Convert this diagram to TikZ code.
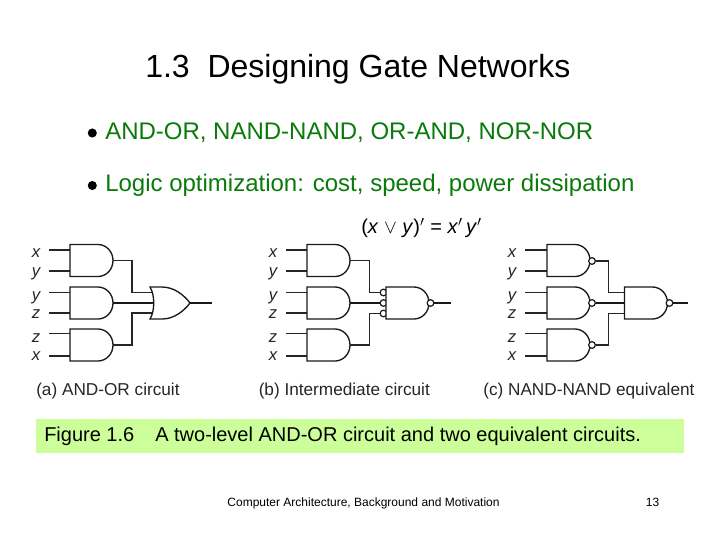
\documentclass[tikz,border=0pt]{standalone}
\usepackage{fontspec}
\setmainfont{Liberation Sans}
\definecolor{bulletgreen}{RGB}{10,122,10}
\definecolor{bannerg}{RGB}{204,255,153}
\tikzset{x=0.75pt,y=-0.75pt,
 wire/.style={line width=0.9pt,black!85},
 thick wire/.style={line width=1.5pt,black!90},
 gate/.style={line width=1pt,black!90,fill=white},
 bub/.style={circle,draw=black!90,line width=0.9pt,fill=white,inner sep=0pt,minimum size=5pt},
 dot/.style={circle,fill=black,inner sep=0pt,minimum size=6.8pt},
 var/.style={font=\itshape\fontsize{12.5pt}{14pt}\selectfont,inner sep=0pt,black!85,anchor=base},
 capt/.style={font=\fontsize{12.9pt}{15pt}\selectfont,anchor=base west,inner sep=0pt,black!85},
 head/.style={font=\fontsize{24pt}{28pt}\selectfont,anchor=base west,inner sep=0pt},
 bul/.style={font=\fontsize{18pt}{22pt}\selectfont,anchor=base west,inner sep=0pt},
 foot/.style={font=\fontsize{9pt}{11pt}\selectfont,inner sep=0pt,anchor=base},
 band/.style={font=\fontsize{15pt}{18pt}\selectfont,anchor=base west,inner sep=0pt}}
\newcommand{\andg}[3]{\draw[gate] (#1,#2-16) -- (#1+28,#2-16) arc[start angle=90,end angle=-90,x radius=15*0.75pt,y radius=16*0.75pt] -- (#1,#2+16) -- cycle;
 \coordinate (#3) at (#1+43,#2);}
\newcommand{\org}[3]{\draw[gate] (#1,#2-16) -- (#1+12,#2-16) .. controls (#1+24,#2-16) and (#1+34,#2-8) .. (#1+40,#2) .. controls (#1+34,#2+8) and (#1+24,#2+16) .. (#1+12,#2+16) -- (#1,#2+16) .. controls (#1+5,#2+8) and (#1+5,#2-8) .. (#1,#2-16) -- cycle;
 \coordinate (#3) at (#1+40,#2);}
\newcommand{\inp}[3]{
 \foreach \lab/\ly/\wy in {x/257.5/250,y/276/271,y/300/292.5,z/318/313,z/342/333.5,x/360.5/356}{
  \node[var] at (#1,\ly) {\lab};
  \coordinate (w) at (#2,\wy);
  \coordinate (e) at (#3,\wy);
  \draw[wire] (w) -- (e);
 }}
\begin{document}
\begin{tikzpicture}
\useasboundingbox (0,0) rectangle (720,540);
\fill[white] (0,0) rectangle (720,540);
\node[head] (title) at (145,77) {1.3\ \ Designing Gate Networks};
\node[dot] (b1) at (92.3,133) {};
\node[bul,text=bulletgreen] (t1) at (105,139) {AND-OR, NAND-NAND, OR-AND, NOR-NOR};
\node[dot] (b2) at (92.3,185.5) {};
\node[bul,text=bulletgreen] (t2) at (105,191) {Logic optimization: cost, speed, power dissipation};
\node[font=\fontsize{15pt}{18pt}\selectfont,inner sep=0pt,anchor=base west] (eq) at (361,233) {(\textit{x} $\vee$ \textit{y})$'$ = \textit{x}$'$\,\textit{y}$'$};
% (a)
\inp{36}{49}{70}
\andg{70}{260.5}{a1}\andg{70}{303}{a2}\andg{70}{345}{a3}
\coordinate (a1t) at (153,292.5);\coordinate (a2t) at (154,303);\coordinate (a3t) at (153,313);
\draw[wire] (a1) -| (132,292.5) -- (a1t);
\draw[thick wire] (a2) -- (a2t);
\draw[wire] (a3) -| (132,313) -- (a3t);
\org{150}{303}{ao}
\coordinate (aout) at (212,303);
\draw[thick wire] (ao) -- (aout);
% (b)
\inp{273}{286}{307}
\andg{307}{260.5}{b1}\andg{307}{303}{b2}\andg{307}{345}{b3}
\node[bub] (bb1) at (383.5,292.5) {};
\node[bub] (bb2) at (383.5,303) {};
\node[bub] (bb3) at (383.5,313.5) {};
\draw[wire] (b1) -| (369.5,292.5) -- (bb1);
\draw[thick wire] (b2) -- (bb2);
\draw[wire] (b3) -| (369.5,313.5) -- (bb3);
\andg{386}{303}{bn}
\node[bub] (bno) at (430.5,303) {};
\coordinate (bout) at (451,303);
\draw[thick wire] (bno) -- (bout);
% (c)
\inp{512}{525}{547}
\andg{547}{260.5}{c1}\andg{547}{303}{c2}\andg{547}{345}{c3}
\node[bub] (cb1) at (592,261) {};
\node[bub] (cb2) at (592,303) {};
\node[bub] (cb3) at (592,345) {};
\coordinate (c1t) at (624.5,292.5);\coordinate (c2t) at (624.5,303);\coordinate (c3t) at (624.5,313.5);
\draw[wire] (cb1) -| (608.5,292.5) -- (c1t);
\draw[thick wire] (cb2) -- (c2t);
\draw[wire] (cb3) -| (608.5,313.5) -- (c3t);
\andg{624.5}{303}{cn}
\node[bub] (cno) at (669.5,303) {};
\coordinate (cout) at (688,303);
\draw[thick wire] (cno) -- (cout);
% captions
\node[capt] (ca) at (36,395) {(a) AND-OR circuit};
\node[capt] (cb) at (258.5,395) {(b) Intermediate circuit};
\node[capt] (cc) at (483,395) {(c) NAND-NAND equivalent};
% banner
\fill[bannerg] (36,419) rectangle (684,453);
\node[band] (fig) at (44,441.5) {Figure 1.6};
\node[band] (figt) at (155,441.5) {A two-level AND-OR circuit and two equivalent circuits.};
\node[foot] (f1) at (363.5,506.5) {Computer Architecture, Background and Motivation};
\node[foot] (f2) at (652.5,506.5) {13};
\end{tikzpicture}
\end{document}
